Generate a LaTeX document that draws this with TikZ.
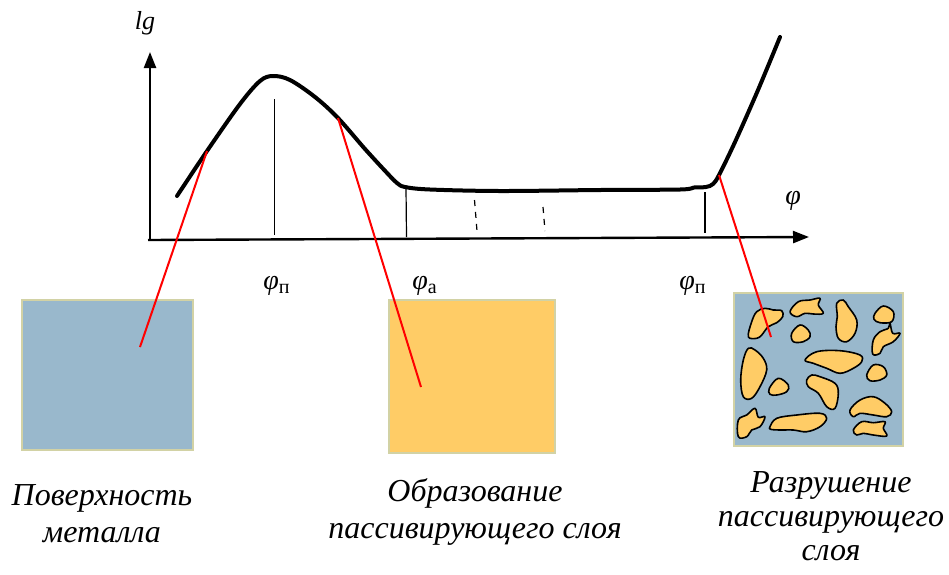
\documentclass[tikz,border=0pt]{standalone}
\usepackage{fontspec}
\setmainfont{Liberation Serif}
\usetikzlibrary{arrows.meta}
\definecolor{metal}{RGB}{153,184,204}
\definecolor{layer}{RGB}{255,204,102}
\definecolor{frame}{RGB}{210,210,165}
\tikzset{
  axis/.style={line width=2.4pt,-{Triangle[length=16pt,width=12pt]}},
  curve/.style={line width=4pt,line join=round,line cap=round},
  tick/.style={line width=1.2pt},
  dtick/.style={line width=1.2pt,dash pattern=on 6pt off 6pt},
  link/.style={red,line width=2pt},
  panel/.style={draw=frame,line width=1.2pt},
  blob/.style={fill=layer,draw=black,line width=1.6pt,line join=round},
  lab/.style={font=\fontsize{28}{30}\selectfont\itshape,inner sep=0pt},
  captext/.style={font=\fontsize{32}{36.5}\selectfont\itshape,align=center,inner sep=0pt,anchor=base},
}
\newcommand{\phisub}[1]{\textit{φ}\raisebox{-4pt}{\fontsize{20}{21}\selectfont\upshape #1}}
\newcommand{\blobshape}[1]{\draw[blob] plot[smooth cycle,tension=0.6] coordinates {#1};}
\begin{document}
\begin{tikzpicture}[x=1pt,y=-1pt]
\useasboundingbox (0,0) rectangle (949,574);
% axes
\coordinate (O) at (148,240);
\coordinate (Ybase) at (150,241);
\coordinate (Ytip) at (150,52);
\coordinate (Xtip) at (809,237);
\draw[axis] (Ybase) -- (Ytip);
\draw[axis] (O) -- (Xtip);
\node[lab,font=\fontsize{26}{28}\selectfont\itshape,anchor=base] (lg) at (145,29) {lg};
\node[lab] (phi) at (793,201) {φ};
% vertical marks
\draw[tick] (274.5,99) -- (274.5,235);
\draw[tick] (406,188) -- (406.5,237);
\draw[tick] (705,192) -- (705,233);
\draw[dtick] (474.5,200) -- (477,231);
\draw[dtick] (543,207) -- (545,231);
% curve
\draw[curve] plot[smooth,tension=0.55] coordinates {(177,196) (207,151) (240,104) (260,81) (273,76) (290,80) (315,97) (338,118) (365,149) (388,174) (397,183) (405,187) (430,189.5) (500,191) (600,190) (680,189.5) (694,187.5) (706,187) (713,184) (719,175) (735,142) (758,90) (780,37)};
\coordinate (c1) at (207,151);
\coordinate (c2) at (338,118);
\coordinate (c3) at (719,175);
% axis labels
\node[lab,anchor=base] (p1) at (276.5,289) {\phisub{п}};
\node[lab,anchor=base] (p2) at (424.5,289) {\phisub{а}};
\node[lab,anchor=base] (p3) at (692.5,289) {\phisub{п}};
% panels
\node[panel,fill=metal,minimum width=171pt,minimum height=150pt,inner sep=0pt] (b1) at (107.5,375) {};
\node[panel,fill=layer,minimum width=166pt,minimum height=153pt,inner sep=0pt] (b2) at (472,376.5) {};
\node[panel,fill=metal,minimum width=169pt,minimum height=153pt,inner sep=0pt] (b3) at (818.5,369.5) {};
% blobs
\blobshape{(748.3,336.7) (751.7,321.7) (756.7,311.7) (765,308.3) (773.3,310) (781.7,310.7) (782.7,316.7) (776.7,322.7) (768.3,326.7) (761.7,335) (756.7,338.3)}
\blobshape{(790,311.7) (798.3,301.7) (810,300) (820,298.3) (818.3,305) (823.3,313.3) (813.3,314) (805,313.3) (796.7,316.7)}
\blobshape{(836.7,303.3) (843.3,300) (848.3,306.7) (856.7,320) (855,333.3) (846.7,341.7) (838.3,338.3) (836,326.7) (837.3,316.7)}
\blobshape{(875,313.3) (883.3,306) (893.3,311.7) (891.7,321.7) (880,322.7) (874,319.3)}
\blobshape{(791.7,333.3) (800,325) (808.3,330) (810,336.7) (803.3,341.7) (793.3,341.7)}
\blobshape{(873.3,340) (880,331.7) (888.3,328.3) (890,323.3) (892.7,333.3) (900,333.3) (893.3,341.7) (883.3,346.7) (880,353.3) (872.7,354)}
\blobshape{(743.3,360) (748.3,348.3) (755,350) (763.3,358.3) (766.7,370) (760,386.7) (751.7,398.3) (743.3,396.7) (740.7,380)}
\blobshape{(805,360) (816.7,351.7) (840,350.7) (860,355) (861.7,361.7) (853.3,368.3) (840,373.3) (826.7,368.3) (813.3,363.3)}
\blobshape{(866.7,375) (873.3,365) (883.3,366.7) (886.7,375) (880,380) (870,380.7)}
\blobshape{(769.3,388.3) (778.3,378.3) (788.3,385) (786.7,391.7) (776.7,395) (770,394.3)}
\blobshape{(806.7,380) (811.7,375) (820,376.7) (835,383.3) (838.3,393.3) (835,408.3) (826.7,406.7) (818.3,393.3) (808.3,386.7)}
\blobshape{(850,410) (860,400) (873.3,396.7) (885,403.3) (891.7,411.7) (886.7,416.7) (873.3,415) (860,413.3) (853.3,416.7)}
\blobshape{(738.3,420) (746.7,415) (755,408.3) (758.3,417.3) (765,416.7) (760,426.7) (751.7,430) (746.7,436.7) (738.3,436.7)}
\blobshape{(770,426.7) (776.7,418.3) (796.7,415) (820,413.3) (826.7,418.3) (820,426.7) (806.7,431.7) (793.3,430) (780,430) (770.7,429.3)}
\blobshape{(853.3,430) (861.7,421.7) (873.3,422.7) (885,421.7) (883.3,428.3) (886.7,436) (873.3,435) (863.3,433.3) (856.7,435)}
% red links
\coordinate (e1) at (140,347);
\coordinate (e2) at (421,387);
\coordinate (e3) at (771,337);
\draw[link] (c1) -- (e1);
\draw[link] (c2) -- (e2);
\draw[link] (c3) -- (e3);
% captions (base anchor = baseline of the last line)
\node[captext] (t1) at (102,542) {Поверхность\\металла};
\node[captext] (t2) at (475,538) {Образование\\пассивирующего слоя};
\node[captext,font=\fontsize{32}{34}\selectfont\itshape] (t3) at (831,560) {Разрушение\\пассивирующего\\слоя};
\end{tikzpicture}
\end{document}
